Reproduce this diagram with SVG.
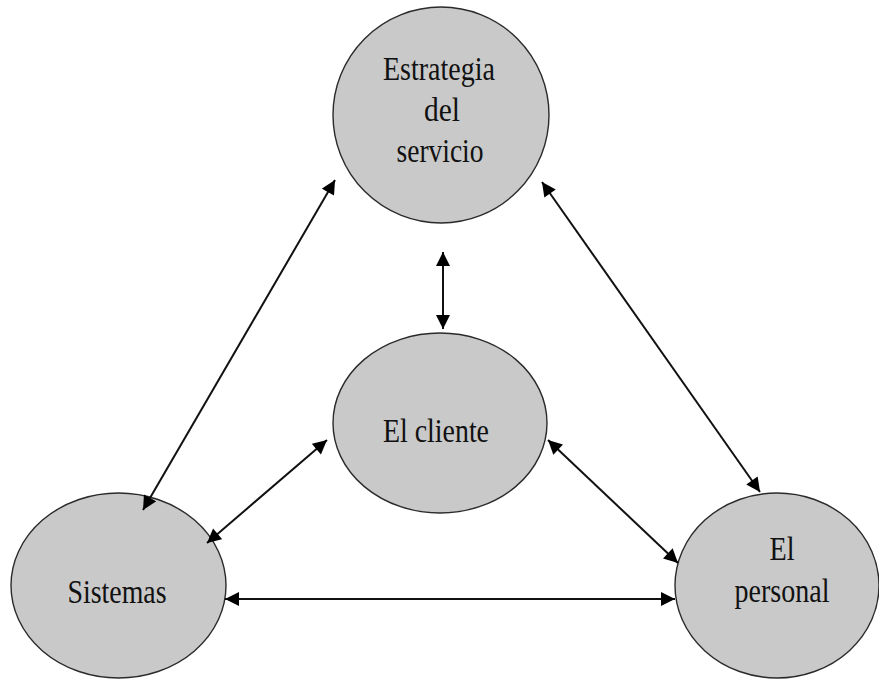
<svg xmlns="http://www.w3.org/2000/svg" width="879" height="679" viewBox="0 0 879 679">
<defs>
<style>
.node{fill:#c9c9c9;stroke:#2a2a2a;stroke-width:1.4}
.con{stroke:#111;stroke-width:2;fill:none;marker-start:url(#ah);marker-end:url(#ah)}
</style>
<marker id="ah" viewBox="0 0 10 10" refX="10" refY="5" markerWidth="7.5" markerHeight="7" markerUnits="strokeWidth" orient="auto-start-reverse">
<path d="M0,0 L10,5 L0,10 Z" fill="#000"/>
</marker>
</defs>
<rect width="879" height="679" fill="#fff"/>
<g font-family="Times New Roman, Liberation Serif, serif" font-size="33" fill="#111" text-anchor="middle">
<g id="estrategia">
<ellipse class="node" cx="441" cy="115" rx="108" ry="108"/>
<text x="439" y="80" textLength="112" lengthAdjust="spacingAndGlyphs">Estrategia</text>
<text x="442" y="121" textLength="36" lengthAdjust="spacingAndGlyphs">del</text>
<text x="440" y="162" textLength="87" lengthAdjust="spacingAndGlyphs">servicio</text>
</g>
<g id="cliente">
<ellipse class="node" cx="440" cy="423" rx="107" ry="90"/>
<text x="436" y="442" textLength="106" lengthAdjust="spacingAndGlyphs">El cliente</text>
</g>
<g id="sistemas">
<ellipse class="node" cx="118.5" cy="585.5" rx="107.5" ry="92.5"/>
<text x="117" y="603" textLength="99" lengthAdjust="spacingAndGlyphs">Sistemas</text>
</g>
<g id="personal">
<ellipse class="node" cx="777" cy="585.5" rx="102" ry="92.5"/>
<text x="782" y="560" textLength="25" lengthAdjust="spacingAndGlyphs">El</text>
<text x="782" y="602" textLength="95" lengthAdjust="spacingAndGlyphs">personal</text>
</g>
</g>
<g id="connectors">
<line class="con" x1="335" y1="180" x2="143" y2="510"/>
<line class="con" x1="542" y1="182" x2="760" y2="492"/>
<line class="con" x1="443" y1="252" x2="443" y2="329"/>
<line class="con" x1="327" y1="440" x2="207" y2="543"/>
<line class="con" x1="548" y1="440" x2="678" y2="563"/>
<line class="con" x1="225" y1="599" x2="675" y2="599"/>
</g>
</svg>
